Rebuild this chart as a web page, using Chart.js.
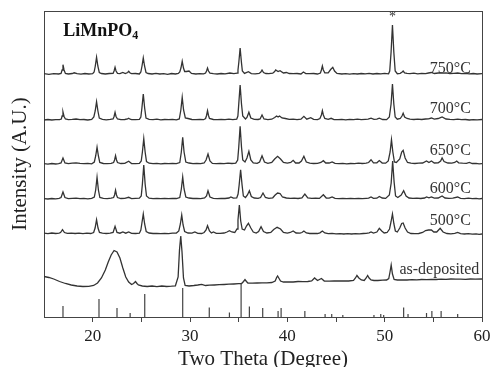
<!DOCTYPE html>
<html>
<head>
<meta charset="utf-8">
<script src="https://cdn.jsdelivr.net/npm/chart.js@4.4.1/dist/chart.umd.min.js"></script>
<style>
  html, body { margin: 0; padding: 0; background: #fff; }
  #xrd { display: block; }
</style>
</head>
<body>
<canvas id="xrd" width="494" height="367"></canvas>
<script>
// XRD patterns, [2theta, intensity above own baseline]
const pat750 = [[15,0.3],[15.5,-0.3],[16,0.4],[16.5,0],[16.75,0.6],[16.86,4],[16.95,9.3],[17.06,4],[17.2,0.6],[17.5,0],[17.9,0.5],[18.1,1.2],[18.4,0.4],[18.8,-0.2],[19.2,0.5],[19.6,0],[20.0,0.4],[20.15,2],[20.27,8],[20.4,16.7],[20.53,8],[20.68,1.5],[20.9,0.5],[21.3,0],[21.7,0.5],[22.1,0.6],[22.2,3],[22.3,6.7],[22.4,3],[22.55,0.6],[22.8,0.3],[23.1,1.5],[23.35,0.4],[23.6,1.5],[23.7,2.7],[23.85,1],[24.0,0.3],[24.4,0.5],[24.8,0],[24.95,2],[25.07,8],[25.2,16],[25.33,8],[25.48,1.5],[25.7,0.5],[26.1,0],[26.5,0.6],[26.9,0],[27.3,0.3],[27.7,-0.3],[28.1,0.5],[28.5,0],[28.8,0.6],[28.95,2],[29.07,6],[29.2,12.7],[29.33,6],[29.45,2.5],[29.65,2.5],[29.9,3],[30.15,0.6],[30.6,0],[31.0,0.4],[31.4,0.2],[31.6,1],[31.7,3],[31.8,6],[31.9,3],[32.05,0.8],[32.4,0.3],[32.8,0],[33.2,0.5],[33.6,0.2],[34.1,1],[34.5,0.3],[34.85,0.8],[34.93,4],[35.02,12],[35.15,26],[35.28,12],[35.38,3],[35.6,0.6],[36.0,2.3],[36.3,0.4],[36.7,0.2],[37.1,0.6],[37.28,2],[37.4,4],[37.55,1.5],[37.8,0.5],[38.1,0.3],[38.5,0.8],[38.7,2.5],[38.8,4],[39.05,2.5],[39.25,3.3],[39.6,1],[39.9,1.5],[40.2,0.5],[40.6,0.3],[41.0,0.5],[41.4,0],[41.65,2],[41.9,0.4],[42.3,0.3],[42.7,0.5],[43.1,0],[43.4,1],[43.5,4],[43.6,8],[43.7,4],[43.85,1.2],[44.2,1.2],[44.45,4.5],[44.67,6.7],[44.85,3],[45.1,0.5],[45.6,0],[46.0,0.4],[46.4,-0.2],[46.8,0.3],[47.2,0],[47.6,0.5],[48.0,0.2],[48.4,0.6],[48.8,0],[49.2,0.5],[49.6,0.2],[50.0,0.6],[50.4,0.2],[50.52,3],[50.66,22],[50.8,49],[50.94,22],[51.08,3],[51.3,0.3],[51.6,0.6],[51.8,2],[51.9,3],[52.05,1],[52.3,0.6],[52.6,0.3],[53.0,0.8],[53.4,0.2],[53.8,0.6],[54.2,0.3],[54.5,1],[54.8,1.5],[55.1,0.5],[55.5,1],[55.9,0.8],[56.3,1.2],[56.7,0.5],[57.1,0.6],[57.5,1],[57.9,0.4],[58.3,0.6],[58.7,0.2],[59.1,0.5],[59.5,0],[60,0.3]];

const pat700 = [[15,0],[15.4,0.5],[15.8,0],[16.2,0.4],[16.6,0.3],[16.78,1],[16.86,4],[16.95,8],[17.06,3.5],[17.2,1],[17.5,0.3],[17.9,0.6],[18.3,1],[18.7,0.3],[19.1,0.5],[19.5,0],[19.9,0.5],[20.12,3],[20.26,9],[20.4,18.3],[20.54,9],[20.68,2],[21.0,0.6],[21.4,0.2],[21.8,0.6],[22.1,1],[22.2,3.5],[22.3,7.7],[22.4,3.5],[22.55,1],[22.9,0.4],[23.3,0.5],[23.6,1],[23.7,1.7],[23.85,0.8],[24.0,0.4],[24.4,0.3],[24.8,0.6],[24.95,3],[25.06,12],[25.2,26],[25.34,12],[25.48,2],[25.8,0.6],[26.2,0.3],[26.6,0.8],[27.0,0.2],[27.4,0.5],[27.8,0.3],[28.2,0.6],[28.6,0.2],[28.9,1],[29.06,10],[29.2,22.7],[29.34,10],[29.52,2],[29.8,1.5],[30.2,0.5],[30.6,0.3],[31.0,0.6],[31.4,0.3],[31.6,1.5],[31.7,4.5],[31.8,9.3],[31.9,4.5],[32.0,1.5],[32.4,0.5],[32.8,0.3],[33.2,0.6],[33.6,0.3],[34.0,0.8],[34.4,0.4],[34.8,0.8],[34.92,4],[35.01,16],[35.15,35],[35.29,16],[35.42,4],[35.7,1],[35.85,2.5],[36.05,7.7],[36.25,2],[36.6,0.6],[37.0,0.5],[37.2,1],[37.4,5],[37.6,1],[38.0,0.4],[38.4,0.8],[38.7,2.5],[38.9,4],[39.05,3],[39.2,4],[39.45,2],[39.8,1.5],[40.2,0.6],[40.6,0.8],[41.0,0.3],[41.4,0.8],[41.7,3.7],[42.0,0.8],[42.4,2.3],[42.7,0.6],[43.1,0.4],[43.35,1.5],[43.5,5],[43.6,9.3],[43.7,5],[43.85,1.5],[44.2,0.6],[44.5,1.7],[44.8,0.4],[45.2,0.3],[45.6,0.6],[46.0,0.2],[46.4,0.6],[46.8,0.3],[47.2,0.8],[47.6,0.4],[48.0,0.6],[48.3,0.8],[48.6,1.8],[48.9,0.6],[49.2,0.8],[49.45,1.8],[49.8,0.5],[50.2,0.4],[50.48,3],[50.66,16],[50.8,36],[50.94,16],[51.08,3],[51.3,0.8],[51.6,1.5],[51.78,4],[51.9,6.7],[52.05,3],[52.3,1.5],[52.6,0.8],[53.0,0.5],[53.4,0.8],[53.8,0.5],[54.2,1],[54.5,1.2],[54.8,2],[55.1,0.8],[55.5,1.5],[55.9,3],[56.3,1],[56.7,0.6],[57.1,0.4],[57.5,0.8],[57.9,0.3],[58.3,0.5],[58.7,0],[59.1,0.4],[59.5,0.2],[60,0.5]];

const pat650 = [[15,0.3],[15.4,-0.2],[15.8,0.5],[16.2,0],[16.5,0.4],[16.75,1],[16.95,6],[17.15,1],[17.5,0.3],[17.9,0.8],[18.3,1.2],[18.7,0.6],[19.1,0.4],[19.5,0.6],[19.9,0.2],[20.17,2],[20.31,8],[20.45,16.7],[20.59,8],[20.73,1.5],[21.1,0.5],[21.5,0.3],[21.9,0.6],[22.15,1.5],[22.25,4],[22.35,8.3],[22.45,4],[22.55,1.5],[22.9,0.5],[23.3,0.6],[23.7,2.7],[24.0,0.5],[24.4,0.3],[24.8,0.6],[24.99,3],[25.11,12],[25.25,25.3],[25.39,12],[25.53,2.5],[25.8,0.8],[26.2,0.3],[26.6,0.6],[27.0,0.2],[27.4,0.5],[27.8,0.4],[28.2,0.6],[28.6,0.3],[28.95,1.5],[29.11,12],[29.25,26.7],[29.39,12],[29.57,2],[29.9,1],[30.3,0.4],[30.7,0.6],[31.1,0.3],[31.45,1],[31.65,4],[31.85,10],[32.05,3],[32.3,0.6],[32.7,0.3],[33.1,0.6],[33.5,0.3],[33.9,0.8],[34.3,0.5],[34.7,0.8],[34.9,4],[35.01,17],[35.15,37.7],[35.29,17],[35.42,4],[35.65,2],[35.85,6],[36.05,12.7],[36.25,4],[36.5,1],[36.9,0.6],[37.15,2],[37.4,8.3],[37.65,2],[38.0,0.6],[38.4,1.5],[38.7,5],[39.0,7.7],[39.3,5],[39.6,1.5],[40.0,0.8],[40.35,1.5],[40.6,3.7],[40.85,1],[41.2,1],[41.45,3],[41.7,7.7],[41.95,2],[42.3,0.8],[42.7,0.5],[43.1,0.6],[43.45,1.5],[43.7,3.3],[43.95,1],[44.3,1],[44.6,2],[44.9,0.6],[45.3,0.3],[45.7,0.6],[46.1,0.2],[46.5,0.5],[46.9,0.3],[47.3,0.8],[47.7,0.5],[48.1,0.8],[48.35,1.5],[48.6,4.3],[48.85,1.2],[49.2,1.2],[49.45,3.5],[49.75,1],[50.1,0.8],[50.37,3],[50.56,12],[50.7,24.3],[50.84,12],[51.0,2],[51.2,1.5],[51.55,5],[51.75,12],[51.9,13.7],[52.1,6],[52.35,1.5],[52.7,0.8],[53.1,0.5],[53.5,0.8],[53.9,1],[54.3,3],[54.55,1.5],[54.8,3],[55.1,1],[55.5,1.2],[55.75,3],[55.9,6],[56.1,2.5],[56.5,1],[56.9,0.8],[57.2,1.5],[57.4,3],[57.6,1.2],[58.0,0.8],[58.4,0.6],[58.7,1.5],[59.0,0.5],[59.4,0.6],[59.7,0.2],[60,0.4]];

const pat600 = [[15,0.4],[15.4,0],[15.8,0.5],[16.2,0.2],[16.55,0.6],[16.75,1.5],[16.95,7],[17.15,1.5],[17.5,0.4],[17.9,0.6],[18.3,0.8],[18.7,0.3],[19.1,0.6],[19.5,0.2],[19.9,0.6],[20.17,2],[20.31,9],[20.45,21.7],[20.59,9],[20.74,1.5],[21.1,0.6],[21.5,0.3],[21.9,0.8],[22.15,1.5],[22.25,4],[22.35,8.7],[22.45,4],[22.55,1.5],[22.9,0.5],[23.3,0.6],[23.7,1.7],[24.0,0.4],[24.4,0.6],[24.8,0.8],[24.99,3],[25.11,15],[25.25,34],[25.39,15],[25.53,3],[25.8,0.8],[26.2,0.4],[26.6,0.6],[27.0,0.3],[27.4,0.6],[27.8,0.3],[28.2,0.6],[28.6,0.5],[28.95,1.5],[29.11,10],[29.25,22],[29.39,10],[29.57,2],[29.9,1],[30.3,0.5],[30.7,0.6],[31.1,0.3],[31.5,1],[31.7,3],[31.85,8.3],[32.05,2],[32.4,0.6],[32.8,0.4],[33.2,0.6],[33.6,0.5],[34.0,1],[34.2,2],[34.45,0.8],[34.8,1],[34.94,5],[35.05,14],[35.2,29.3],[35.35,14],[35.48,3],[35.7,1.5],[35.9,4],[36.1,8.3],[36.3,2.5],[36.6,1],[37.0,0.6],[37.25,1.5],[37.5,6],[37.75,1.5],[38.1,0.6],[38.5,1.2],[38.75,4],[39.0,6],[39.25,5.5],[39.5,2],[39.9,1],[40.3,0.6],[40.7,0.8],[41.1,0.5],[41.5,1],[41.8,5],[42.1,1],[42.5,0.6],[42.9,0.8],[43.3,0.6],[43.7,4.3],[44.0,1],[44.3,0.8],[44.6,2],[44.9,0.6],[45.3,0.4],[45.7,0.6],[46.1,0.3],[46.5,0.6],[46.9,0.4],[47.3,0.6],[47.7,0.3],[48.1,0.6],[48.35,0.8],[48.6,2],[48.85,0.6],[49.2,0.8],[49.45,2.5],[49.75,1],[50.1,0.6],[50.48,4],[50.67,16],[50.82,38],[50.97,17],[51.12,3],[51.35,1.5],[51.7,4],[51.95,8.3],[52.2,3],[52.5,1],[52.9,0.6],[53.3,0.8],[53.7,0.5],[54.1,1],[54.3,2],[54.55,1.2],[54.8,2],[55.1,0.8],[55.5,1],[55.9,3],[56.2,1],[56.6,0.6],[57.0,0.8],[57.5,2],[57.8,0.6],[58.2,0.4],[58.6,0.8],[59.0,0.3],[59.4,0.6],[59.7,0.2],[60,0.5]];

const pat500 = [[15,0.8],[15.4,0.4],[15.8,1],[16.2,0.5],[16.55,0.8],[16.7,1.5],[16.9,4.3],[17.1,1.5],[17.4,0.6],[17.8,0.8],[18.2,0.5],[18.6,0.9],[19.0,0.4],[19.4,0.8],[19.8,0.5],[20.1,1.5],[20.25,6],[20.4,14.3],[20.55,6],[20.7,1.5],[21.0,0.8],[21.4,0.5],[21.8,0.8],[22.1,1.5],[22.3,7.7],[22.5,1.5],[22.8,0.8],[23.1,2],[23.4,0.8],[23.7,2],[24.0,0.6],[24.4,0.5],[24.8,0.8],[24.95,4],[25.06,11],[25.2,20],[25.34,10],[25.5,2.5],[25.8,1],[26.2,0.5],[26.6,0.6],[27.0,0.3],[27.4,0.6],[27.8,0.4],[28.2,0.8],[28.6,1],[28.85,3],[29.01,10],[29.15,19],[29.29,9],[29.45,2.5],[29.8,1],[30.2,0.8],[30.5,2],[30.8,0.6],[31.2,0.5],[31.45,1.5],[31.65,4],[31.8,8.3],[32.0,3],[32.2,1],[32.4,2],[32.7,0.6],[33.1,0.6],[33.5,1],[33.8,2],[34.05,3.3],[34.3,2],[34.6,1.5],[34.83,5],[34.93,14],[35.07,29],[35.21,13],[35.36,5],[35.6,4],[35.8,8],[36.0,10.7],[36.25,6],[36.5,2],[36.8,1],[37.05,2.5],[37.3,7.3],[37.55,2.5],[37.9,1],[38.3,1.5],[38.6,4.5],[38.95,6.7],[39.3,5],[39.6,1.5],[40.0,0.8],[40.3,1.5],[40.6,3],[40.9,1],[41.3,0.8],[41.5,1.5],[41.7,3],[41.95,1],[42.3,0.5],[42.7,0.6],[43.1,0.5],[43.35,1.2],[43.6,3],[43.85,1],[44.2,0.4],[44.6,0.6],[45.0,0.2],[45.4,0.4],[45.8,0],[46.2,0.3],[46.6,0],[47.0,0.4],[47.4,0.1],[47.8,0.5],[48.1,0.6],[48.4,1.2],[48.6,2],[48.85,1],[49.2,2],[49.45,5.7],[49.7,3],[49.95,1],[50.25,1.5],[50.5,5],[50.65,12],[50.8,20],[50.95,10],[51.1,3],[51.3,2],[51.55,6],[51.75,10.5],[51.9,11],[52.1,6],[52.35,2],[52.7,0.5],[53.1,0.3],[53.5,0.5],[53.9,1.5],[54.2,3.5],[54.5,4],[54.8,4],[55.05,2],[55.35,2],[55.7,5.7],[56.0,2],[56.4,0.5],[56.8,0.2],[57.2,0.6],[57.5,1.5],[57.8,0.3],[58.2,0],[58.6,0.3],[59.0,-0.2],[59.4,0.2],[59.7,-0.3],[60,0]];

const patAsDep = [[15,9.5],[15.5,8.5],[16,7],[16.6,4.5],[17.2,2.5],[17.8,1],[18.4,0],[19.0,-0.5],[19.6,-0.3],[20.1,0.5],[20.5,3],[20.9,8],[21.3,16],[21.6,24],[21.9,31],[22.2,35.5],[22.5,34],[22.8,28],[23.1,18],[23.4,9],[23.7,4],[24.0,1.5],[24.2,2.5],[24.4,4.5],[24.55,2.5],[24.7,1],[25.1,0],[25.6,-0.5],[26.1,0],[26.6,-0.7],[27.1,0],[27.6,-0.5],[28.1,-0.2],[28.5,0.2],[28.78,9],[28.92,36],[29.05,50],[29.18,34],[29.33,8],[29.5,0.5],[29.9,0],[30.4,0.5],[30.8,1],[31.2,1.7],[31.6,0.5],[32.0,0.8],[32.5,1],[33.0,1.3],[33.5,1.5],[34.0,1.8],[34.5,2],[35.0,2.3],[35.3,2.5],[35.5,4.5],[35.65,6.5],[35.8,4.5],[35.95,3],[36.4,2.8],[36.9,3],[37.4,3.2],[37.9,3.2],[38.4,3.5],[38.75,5],[38.9,8.5],[39.0,10],[39.12,8],[39.3,5],[39.6,4],[40.1,4.2],[40.6,4],[41.1,4.5],[41.6,4.3],[42.1,4.5],[42.5,5],[42.8,8],[43.1,5.5],[43.5,7.5],[43.8,5],[44.3,4.8],[44.8,5],[45.3,5],[45.8,5.2],[46.3,5],[46.8,5.5],[47.0,8],[47.15,10.5],[47.35,8],[47.6,6],[47.9,5.5],[48.1,8],[48.25,10.5],[48.4,8],[48.6,6],[48.9,5.5],[49.3,5.5],[49.8,5.8],[50.2,6],[50.42,7.5],[50.55,14],[50.67,21],[50.8,12],[50.97,6.5],[51.3,6],[51.8,6.2],[52.3,6],[52.8,6.3],[53.3,6.2],[53.8,6.5],[54.3,6.3],[54.8,6.6],[55.3,6.5],[55.8,6.8],[56.3,6.6],[56.8,7],[57.3,6.8],[57.8,6.9],[58.3,6.7],[58.8,7],[59.3,6.8],[60,7]];

const patterns = [pat750, pat700, pat650, pat600, pat500, patAsDep];
const offsets = [243, 197, 153, 118, 83, 31];
const tempLabels = ['750°C', '700°C', '650°C', '600°C', '500°C', 'as-deposited'];

// reference pattern (JCPDS sticks)
const stickPos = [16.95, 20.65, 22.5, 23.85, 25.35, 29.25, 31.98, 34.05, 35.25, 36.1, 37.47, 39.05, 39.36, 41.8, 43.88, 44.56, 45.7, 48.9, 49.6, 49.9, 51.95, 52.4, 54.3, 54.85, 55.8, 57.5];
const stickInt = [11, 18, 9, 4, 23, 29, 9.5, 4.5, 33.5, 10.5, 9, 6, 9, 6, 3, 3, 2, 2, 3, 2, 9.5, 3, 4, 6, 6, 3];

const xTicks = [20, 30, 40, 50, 60];

const serif = "'Liberation Serif', 'Times New Roman', serif";
const ink = '#333';

const datasets = patterns.map((pat, i) => ({
  data: pat.map(([t, v]) => ({ x: t, y: v + offsets[i] })),
  borderColor: ink,
  borderWidth: 1.3,
  pointRadius: 0,
  tension: 0,
  fill: false
}));

const stickData = [];
stickPos.forEach((t, i) => {
  stickData.push({ x: t, y: 0 }, { x: t, y: stickInt[i] }, { x: t, y: null });
});
datasets.push({
  data: stickData,
  borderColor: '#444',
  borderWidth: 1.2,
  pointRadius: 0,
  spanGaps: false
});

// label anchors in data units (right edge, text baseline)
const labelAnchors = [[58.85, 244.3], [58.85, 203.7], [58.85, 162], [58.85, 124.3], [58.85, 92], [59.73, 43.5]];

const annotate = {
  id: 'annotate',
  afterDatasetsDraw(chart) {
    const { ctx, scales: { x, y } } = chart;
    ctx.save();
    ctx.fillStyle = ink;
    ctx.textBaseline = 'alphabetic';
    ctx.font = `16px ${serif}`;
    ctx.textAlign = 'right';
    tempLabels.forEach((txt, i) => {
      ctx.fillText(txt, x.getPixelForValue(labelAnchors[i][0]), y.getPixelForValue(labelAnchors[i][1]));
    });

    // star over the substrate peak
    ctx.textAlign = 'center';
    ctx.font = `14px ${serif}`;
    ctx.fillText('*', x.getPixelForValue(50.8), y.getPixelForValue(296.5));

    // sample name with subscript
    ctx.textAlign = 'left';
    ctx.fillStyle = '#111';
    ctx.font = `bold 18px ${serif}`;
    const nx = x.getPixelForValue(16.98), ny = y.getPixelForValue(281);
    ctx.fillText('LiMnPO', nx, ny);
    const w = ctx.measureText('LiMnPO').width;
    ctx.font = `bold 12px ${serif}`;
    ctx.fillText('4', nx + w, ny + 3);
    ctx.restore();
  }
};

new Chart(document.getElementById('xrd'), {
  type: 'line',
  data: { datasets },
  options: {
    responsive: false,
    animation: false,
    layout: { padding: { top: 11, right: 12, bottom: 0, left: 0 } },
    plugins: { legend: { display: false }, tooltip: { enabled: false } },
    scales: {
      x: {
        type: 'linear',
        min: 15,
        max: 60,
        border: { display: true, color: '#444', width: 1 },
        grid: {
          display: true,
          drawOnChartArea: false,
          tickLength: 5,
          tickColor: c => (c.tick && c.tick.value === 15 ? 'rgba(0,0,0,0)' : '#444')
        },
        ticks: {
          stepSize: 5,
          padding: 4,
          autoSkip: false,
          maxRotation: 0,
          color: '#222',
          font: { family: serif, size: 17 },
          callback: v => (xTicks.includes(v) ? v : '')
        },
        title: {
          display: true,
          text: 'Two Theta (Degree)',
          color: '#222',
          font: { family: serif, size: 21, lineHeight: 1 },
          padding: { top: 0, bottom: -2.5 }
        },
        afterFit: s => { s.height = 50; s.paddingLeft = 0; s.paddingRight = 0; }
      },
      y: {
        type: 'linear',
        min: 0,
        max: 306,
        border: { display: true, color: '#444', width: 1 },
        grid: { display: false },
        ticks: { display: false },
        title: {
          display: true,
          text: 'Intensity (A.U.)',
          color: '#222',
          font: { family: serif, size: 21, lineHeight: 1 },
          padding: { top: 10, bottom: 0 }
        },
        afterFit: s => { s.width = 44; }
      },
      xTop: {
        type: 'linear',
        position: 'top',
        min: 15,
        max: 60,
        border: { display: true, color: '#444', width: 1 },
        grid: { display: false },
        ticks: { display: false },
        afterFit: s => { s.height = 0; s.paddingLeft = 0; s.paddingRight = 0; }
      },
      yRight: {
        type: 'linear',
        position: 'right',
        min: 0,
        max: 306,
        border: { display: true, color: '#444', width: 1 },
        grid: { display: false },
        ticks: { display: false },
        afterFit: s => { s.width = 0; }
      }
    }
  },
  plugins: [annotate]
});
</script>
</body>
</html>
